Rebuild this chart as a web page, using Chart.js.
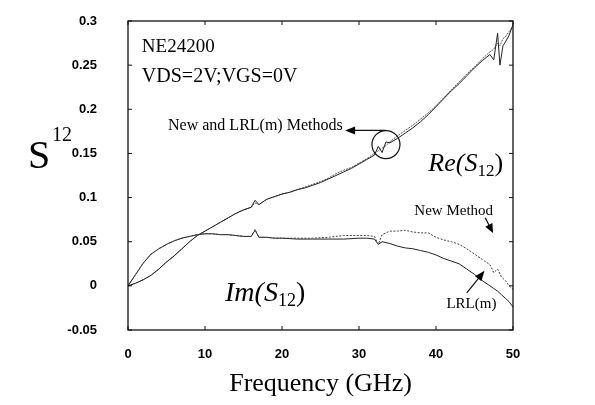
<!DOCTYPE html>
<html><head><meta charset="utf-8">
<script src="https://cdn.jsdelivr.net/npm/chart.js@4.4.1/dist/chart.umd.min.js"></script>
<style>html,body{margin:0;padding:0;background:#fff;}#wrap{width:595px;height:405px;}</style>
</head><body><div id="wrap"><canvas id="c" width="595" height="405"></canvas></div>
<script>
// ---- data ----
const freqRe = [0,1,2,3,4,5,6,7,8,9,10,11,12,13,14,15,16,16.5,17,18,19,20,21,22,23,24,25,26,27,28,29,30,31,32,32.5,33,33.5,34,35,36,37,38,39,40,41,42,43,44,45,46,47,47.5,48,48.3,48.7,49,49.5,50];
const reNew  = [0,0.003,0.007,0.012,0.019,0.027,0.034,0.042,0.050,0.057,0.062,0.067,0.072,0.077,0.082,0.086,0.089,0.097,0.092,0.098,0.101,0.104,0.106,0.109,0.111,0.114,0.117,0.121,0.125,0.129,0.133,0.138,0.143,0.148,0.158,0.151,0.163,0.162,0.167,0.173,0.179,0.186,0.194,0.203,0.212,0.221,0.229,0.238,0.247,0.255,0.262,0.256,0.286,0.250,0.272,0.276,0.284,0.296];
const reLRL  = [0,0.003,0.007,0.012,0.019,0.027,0.034,0.042,0.050,0.057,0.062,0.067,0.072,0.077,0.082,0.086,0.089,0.094,0.092,0.098,0.101,0.104,0.106,0.109,0.112,0.115,0.118,0.122,0.127,0.131,0.134,0.139,0.144,0.150,0.153,0.156,0.159,0.163,0.170,0.176,0.182,0.189,0.196,0.204,0.213,0.222,0.231,0.240,0.248,0.257,0.265,0.268,0.275,0.272,0.280,0.282,0.288,0.294];
const freqIm = [0,1,2,3,4,5,6,7,8,9,10,11,12,13,14,15,16,16.5,17,18,19,20,22,24,26,28,30,31,32,32.5,33,34,35,36,37,38,39,40,41,42,43,44,45,46,47,47.5,48,48.5,49,49.5,50];
const imNew  = [0,0.013,0.026,0.036,0.042,0.047,0.051,0.054,0.056,0.058,0.059,0.059,0.058,0.058,0.057,0.056,0.056,0.064,0.055,0.055,0.054,0.054,0.054,0.054,0.055,0.057,0.057,0.057,0.056,0.047,0.058,0.062,0.062,0.063,0.061,0.060,0.060,0.055,0.052,0.050,0.047,0.042,0.036,0.030,0.024,0.015,0.019,0.010,0.006,0.000,-0.004];
const imLRL  = [0,0.013,0.026,0.036,0.042,0.047,0.051,0.054,0.056,0.058,0.059,0.059,0.058,0.058,0.057,0.056,0.056,0.063,0.055,0.055,0.054,0.054,0.053,0.053,0.053,0.053,0.054,0.054,0.053,0.047,0.050,0.048,0.045,0.043,0.042,0.040,0.038,0.035,0.031,0.028,0.025,0.019,0.013,0.006,0.000,-0.003,-0.006,-0.010,-0.014,-0.018,-0.024];
const xTicks = [0,10,20,30,40,50];
const yTicks = [-0.05,0,0.05,0.1,0.15,0.2,0.25,0.3];
const yTickLabels = ['-0.05','0','0.05','0.1','0.15','0.2','0.25','0.3'];

const pts = (xs, ys) => xs.map((x,i)=>({x:x, y:ys[i]}));

function arrow(ctx, x1,y1,x2,y2, hl, hw){
  const a = Math.atan2(y2-y1, x2-x1);
  ctx.beginPath(); ctx.moveTo(x1,y1); ctx.lineTo(x2 - Math.cos(a)*hl*0.8, y2 - Math.sin(a)*hl*0.8); ctx.stroke();
  ctx.beginPath();
  ctx.moveTo(x2,y2);
  ctx.lineTo(x2 - hl*Math.cos(a) + hw*Math.sin(a), y2 - hl*Math.sin(a) - hw*Math.cos(a));
  ctx.lineTo(x2 - hl*Math.cos(a) - hw*Math.sin(a), y2 - hl*Math.sin(a) + hw*Math.cos(a));
  ctx.closePath(); ctx.fill();
}
function rich(ctx, parts, x, y){
  let cx = x;
  ctx.textAlign='left'; ctx.textBaseline='alphabetic';
  for(const p of parts){ ctx.font = p.f; ctx.fillText(p.t, cx, y + (p.dy||0)); cx += ctx.measureText(p.t).width + (p.gap||0); }
}

const deco = {
  id:'deco',
  afterDraw(chart){
    const ctx = chart.ctx, a = chart.chartArea, xs = chart.scales.x, ys = chart.scales.y;
    ctx.save();
    ctx.strokeStyle='#111'; ctx.fillStyle='#000'; ctx.lineWidth=1.3;
    ctx.strokeRect(a.left, a.top, a.right-a.left, a.bottom-a.top);
    ctx.lineWidth=1;
    for(const v of yTicks){ const y = ys.getPixelForValue(v);
      ctx.beginPath(); ctx.moveTo(a.left,y); ctx.lineTo(a.left+4,y); ctx.moveTo(a.right,y); ctx.lineTo(a.right-4,y); ctx.stroke(); }
    for(const v of xTicks){ const x = xs.getPixelForValue(v);
      ctx.beginPath(); ctx.moveTo(x,a.bottom); ctx.lineTo(x,a.bottom-4); ctx.moveTo(x,a.top); ctx.lineTo(x,a.top+4); ctx.stroke(); }
    const X = f=>xs.getPixelForValue(f), Y = v=>ys.getPixelForValue(v);
    const serif = '"Liberation Serif","Times New Roman",serif';
    ctx.fillStyle='#000';
    ctx.textBaseline='middle'; ctx.textAlign='left';
    ctx.font = '19px '+serif;
    ctx.fillText('NE24200', X(1.8), Y(0.271));
    ctx.font = '20px '+serif;
    ctx.fillText('VDS=2V;VGS=0V', X(1.8), Y(0.237));
    ctx.font = '16px '+serif;
    ctx.fillText('New and LRL(m) Methods', X(5.2), Y(0.181));
    // arrow to label and circle
    ctx.lineWidth=1.2;
    arrow(ctx, X(33.5), Y(0.176), X(28.2), Y(0.176), 10, 4);
    ctx.beginPath(); ctx.arc(X(33.5), Y(0.160), 14, 0, Math.PI*2); ctx.stroke();
    // Re / Im labels
    rich(ctx, [{t:'Re(S', f:'italic 26px '+serif},{t:'12', f:'17px '+serif, dy:5},{t:')', f:'26px '+serif}], X(39.0), Y(0.130));
    rich(ctx, [{t:'Im(S', f:'italic 28px '+serif},{t:'12', f:'18px '+serif, dy:5},{t:')', f:'28px '+serif}], X(12.6), Y(-0.017));
    ctx.textBaseline='middle'; ctx.textAlign='center';
    ctx.font = '15px '+serif;
    ctx.fillText('New Method', X(42.3), Y(0.0846));
    arrow(ctx, X(46.4), Y(0.077), X(47.4), Y(0.060), 9, 4);
    ctx.fillText('LRL(m)', X(44.6), Y(-0.021));
    arrow(ctx, X(44.0), Y(-0.008), X(46.3), Y(0.017), 10, 4);
    // axis titles
    ctx.font = '26px '+serif; ctx.textAlign='center'; ctx.textBaseline='middle';
    ctx.fillText('Frequency (GHz)', (a.left+a.right)/2, 384);
    ctx.textAlign='left'; ctx.textBaseline='alphabetic';
    ctx.font = '40px '+serif; ctx.fillText('S', 28, 168);
    ctx.font = '20px '+serif; ctx.fillText('12', 52, 141);
    ctx.restore();
  }
};

new Chart(document.getElementById('c'), {
  type:'line',
  data:{ datasets:[
    {label:'Re New', data:pts(freqRe, reNew), borderColor:'#222', borderWidth:1, pointRadius:0, tension:0, fill:false},
    {label:'Re LRL(m)', data:pts(freqRe, reLRL), borderColor:'#555', borderWidth:1, borderDash:[2,1], pointRadius:0, tension:0, fill:false},
    {label:'Im New', data:pts(freqIm, imNew), borderColor:'#444', borderWidth:1, borderDash:[2,1.5], pointRadius:0, tension:0, fill:false},
    {label:'Im LRL(m)', data:pts(freqIm, imLRL), borderColor:'#222', borderWidth:1, pointRadius:0, tension:0, fill:false}
  ]},
  options:{
    responsive:false, animation:false, devicePixelRatio:1,
    layout:{padding:{top:21, right:82, left:0, bottom:0}},
    plugins:{legend:{display:false}, tooltip:{enabled:false}},
    scales:{
      x:{type:'linear', min:0, max:50,
        afterBuildTicks:s=>{s.ticks = xTicks.map(v=>({value:v}));},
        afterFit:s=>{s.height=75; s.paddingLeft=0; s.paddingRight=0;},
        grid:{display:false, drawTicks:false}, border:{display:false},
        ticks:{color:'#000', padding:17, maxRotation:0, font:{family:'"Liberation Sans",Arial,sans-serif', weight:'bold', size:13}}},
      y:{type:'linear', min:-0.05, max:0.3,
        afterBuildTicks:s=>{s.ticks = yTicks.map(v=>({value:v}));},
        afterFit:s=>{s.width=128; s.paddingTop=0; s.paddingBottom=0;},
        grid:{display:false, drawTicks:false}, border:{display:false},
        ticks:{color:'#000', padding:31, callback:(v,i)=>yTickLabels[i], font:{family:'"Liberation Sans",Arial,sans-serif', weight:'bold', size:13}}}
    }
  },
  plugins:[deco]
});
</script></body></html>
